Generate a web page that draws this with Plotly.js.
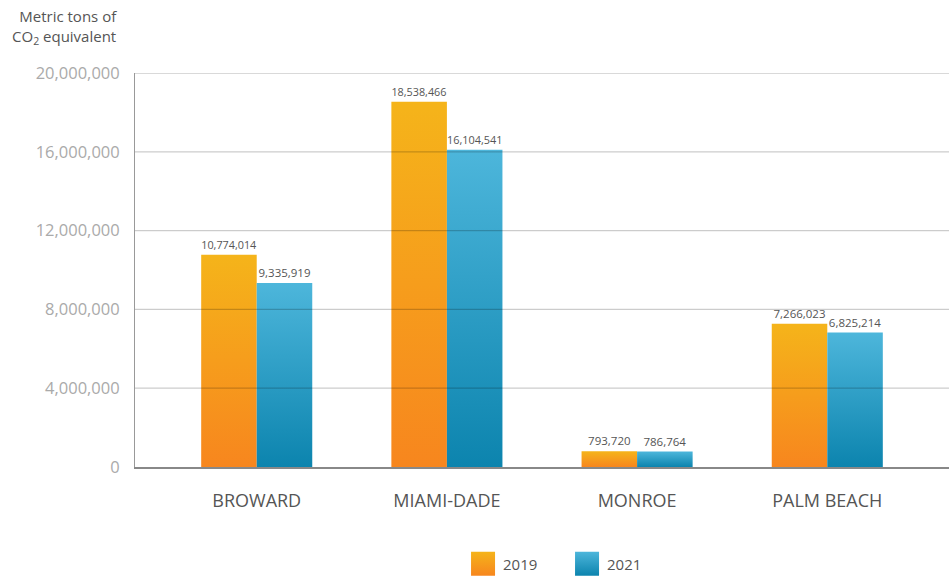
<!DOCTYPE html>
<html><head><meta charset="utf-8">
<script src="https://cdn.plot.ly/plotly-3.0.1.min.js"></script>
<style>html,body{margin:0;padding:0;background:#fff}#chart{width:949px;height:576px}</style>
</head><body><div id="chart"></div>
<script>
const categories = ["BROWARD", "MIAMI-DADE", "MONROE", "PALM BEACH"];
const values2019 = [10774014, 18538466, 793720, 7266023];
const values2021 = [9335919, 16104541, 786764, 6825214];
const yTicks = [0, 4000000, 8000000, 12000000, 16000000, 20000000];
const yTickLabels = ["0", "4,000,000", "8,000,000", "12,000,000", "16,000,000", "20,000,000"];

const fmt = v => v.toLocaleString('en-US');
const FONT = "Open Sans, sans-serif";

const traces = [
  {type:'bar', name:'2019', x:categories, y:values2019, text:values2019.map(fmt),
   textposition:'outside', cliponaxis:false, textfont:{size:11.5,color:'#555',family:FONT},
   marker:{color:'#F6A11C', line:{width:0}}},
  {type:'bar', name:'2021', x:categories, y:values2021, text:values2021.map(fmt),
   textposition:'outside', cliponaxis:false, textfont:{size:11.5,color:'#555',family:FONT},
   marker:{color:'#2A9ECB', line:{width:0}}}
];

const shapes = yTicks.slice(1).map(v => ({type:'line', xref:'paper', x0:0, x1:1, yref:'y', y0:v, y1:v,
  layer:'above', line:{color:'rgba(0,0,0,0.2)', width:1.3}}));

const layout = {
  width:949, height:576,
  margin:{l:135, r:0, t:73, b:109},
  paper_bgcolor:'#fff', plot_bgcolor:'#fff',
  font:{family:FONT, color:'#555'},
  barmode:'group', bargap:0.416, bargroupgap:0,
  showlegend:true,
  legend:{orientation:'h', x:0.403, xanchor:'left', yref:'container', y:0.021, yanchor:'middle',
    font:{size:15, color:'#555', family:FONT}, entrywidth:59, entrywidthmode:'pixels', traceorder:'normal'},
  xaxis:{range:[-0.64, 3.64], showgrid:false, showline:true, linecolor:'#888', linewidth:1.5,
    ticks:'outside', ticklen:17, tickcolor:'rgba(0,0,0,0)', tickfont:{size:18, color:'#555', family:FONT},
    fixedrange:true},
  yaxis:{range:[0, 20000000], tickvals:yTicks, ticktext:yTickLabels, showgrid:false,
    showline:true, linecolor:'#999', linewidth:1, zeroline:false,
    ticks:'outside', ticklen:11, tickcolor:'rgba(0,0,0,0)',
    tickfont:{size:16.5, color:'#aaa', family:FONT}, fixedrange:true},
  shapes: shapes,
  annotations:[{xref:'paper', yref:'paper', x:0, xshift:-16, xanchor:'right', y:1, yshift:23, yanchor:'bottom',
    align:'right', showarrow:false, text:'Metric tons of<br>CO<sub>2</sub> equivalent',
    font:{size:15, color:'#555', family:FONT}}]
};

Plotly.newPlot('chart', traces, layout, {displayModeBar:false, staticPlot:true}).then(gd => {
  const svg = gd.querySelector('.main-svg');
  let defs = svg.querySelector('defs');
  const ns = 'http://www.w3.org/2000/svg';
  function grad(id, c1, c2){
    const g = document.createElementNS(ns,'linearGradient');
    g.setAttribute('id', id); g.setAttribute('x1','0'); g.setAttribute('y1','0'); g.setAttribute('x2','0'); g.setAttribute('y2','1');
    [[0,c1],[1,c2]].forEach(([o,c]) => { const s=document.createElementNS(ns,'stop'); s.setAttribute('offset',o); s.setAttribute('stop-color',c); g.appendChild(s); });
    defs.appendChild(g);
  }
  grad('gOrange','#F5B41A','#F7861E');
  grad('gBlue','#4DB6DB','#0C84AE');
  const traceGroups = gd.querySelectorAll('.barlayer .trace');
  traceGroups.forEach((tg,i) => {
    tg.querySelectorAll('.point path').forEach(p => p.style.fill = i===0 ? 'url(#gOrange)' : 'url(#gBlue)');
  });
  gd.querySelectorAll('.legend .traces').forEach((t,i) => {
    t.querySelectorAll('.legendpoints path').forEach(p => {
      p.style.fill = i===0 ? 'url(#gOrange)' : 'url(#gBlue)';
      p.setAttribute('transform', (p.getAttribute('transform')||'') + ' scale(2)');
    });
  });
});
</script></body></html>
